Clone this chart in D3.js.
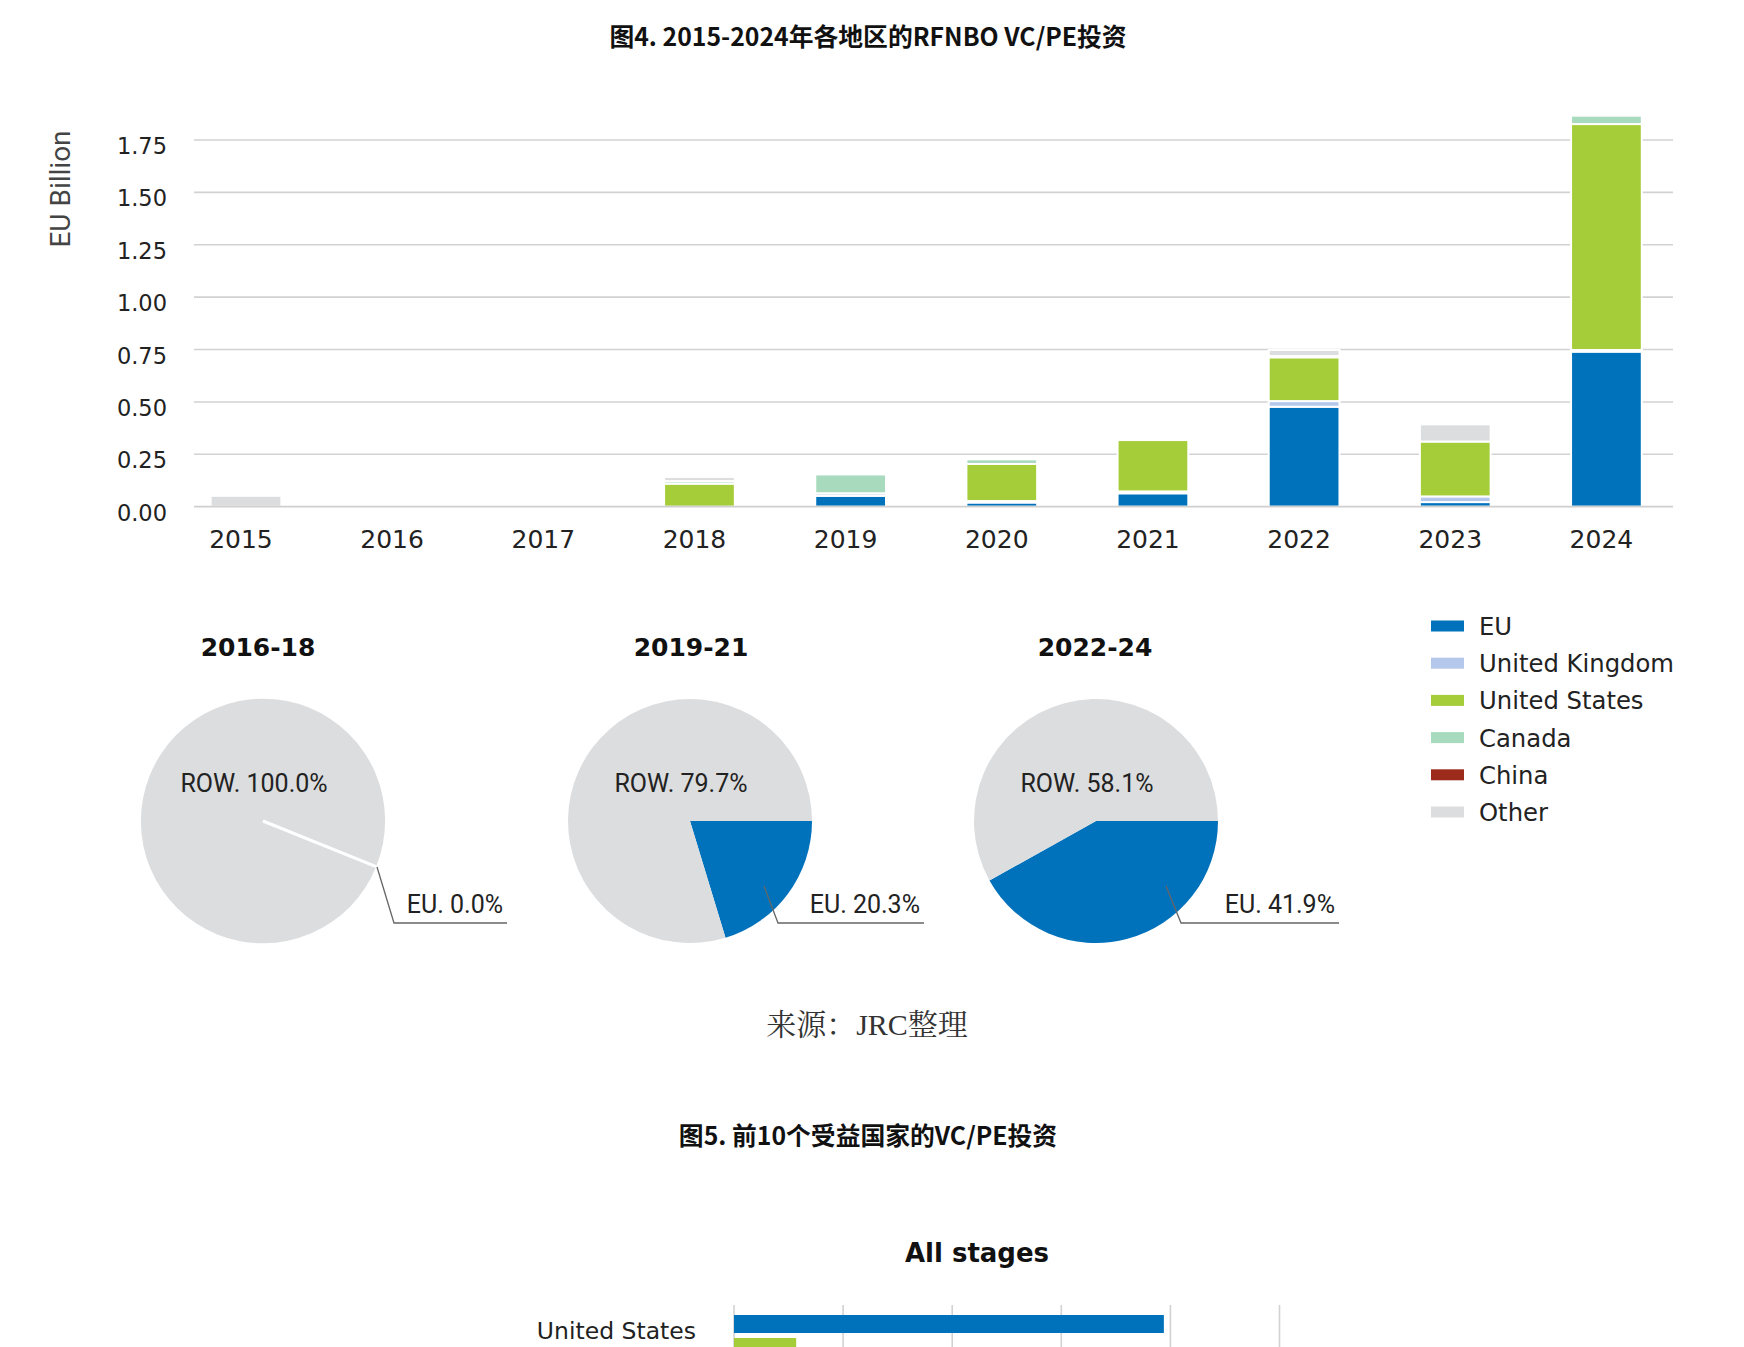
<!DOCTYPE html>
<html><head><meta charset="utf-8">
<script src="https://cdn.jsdelivr.net/npm/d3@7/dist/d3.min.js"></script>
<style>body{margin:0;background:#fff} svg{display:block}</style>
</head><body>
<svg id="c" width="1744" height="1347"></svg>
<script>
// ---------- data ----------
const years   = ['2015','2016','2017','2018','2019','2020','2021','2022','2023','2024'];
const euVals     = [0,     0, 0, 0,     0.052, 0.020, 0.064, 0.477, 0.022, 0.740];
const ukVals     = [0,     0, 0, 0,     0.012, 0.007, 0.009, 0.027, 0.027, 0.008];
const usVals     = [0,     0, 0, 0.110, 0,     0.177, 0.245, 0.209, 0.262, 1.078];
const canadaVals = [0,     0, 0, 0.012, 0.090, 0.022, 0,     0.006, 0,     0.040];
const chinaVals  = [0,     0, 0, 0,     0,     0,     0,     0,     0,     0];
const otherVals  = [0.052, 0, 0, 0.020, 0,     0,     0,     0.029, 0.082, 0];
const seriesNames = ['EU','United Kingdom','United States','Canada','China','Other'];
const yTicks = [0, 0.25, 0.5, 0.75, 1.0, 1.25, 1.5, 1.75];

const periods  = ['2016-18','2019-21','2022-24'];
const euShare  = [0.0, 20.3, 41.9];
const rowShare = [100.0, 79.7, 58.1];

const hbarCountries = ['United States'];
const hbarBlue  = [3.94];
const hbarGreen = [0.57];
const hbarTicks = [0, 1, 2, 3, 4, 5];

// ---------- style ----------
const colors = {'EU':'#0072BC','United Kingdom':'#B4C8EC','United States':'#A5CD39',
                'Canada':'#A8DBBE','China':'#9C2B1C','Other':'#DCDDDF'};
const ROW_COLOR = '#DCDDDF';
const TXT = '#222';
const sans = "'DejaVu Sans', sans-serif";
const narrow = "Roboto, 'Noto Sans', sans-serif";
const cjk = "'Noto Sans CJK SC', sans-serif";

const svg = d3.select('#c');
svg.append('rect').attr('width',1744).attr('height',1347).attr('fill','#fff');

// ---------- titles ----------
svg.append('text').attr('x',868).attr('y',46).attr('text-anchor','middle')
  .attr('font-family',cjk).attr('font-weight','bold').attr('font-size',24.8).attr('fill','#111')
  .text('图4. 2015-2024年各地区的RFNBO VC/PE投资');

// ---------- stacked bar chart ----------
const x = d3.scaleBand().domain(years).range([170.4, 1682]).paddingInner(0.532).paddingOuter(0.266);
const y = d3.scaleLinear().domain([0, 1.75]).range([506.7, 140]);

const gGrid = svg.append('g');
gGrid.selectAll('line').data(yTicks.filter(t=>t>0)).join('line')
  .attr('x1',194).attr('x2',1673).attr('y1',d=>y(d)).attr('y2',d=>y(d))
  .attr('stroke','#d2d2d2').attr('stroke-width',1.6);

const table = years.map((yr,i)=>({year:yr,'EU':euVals[i],'United Kingdom':ukVals[i],
  'United States':usVals[i],'Canada':canadaVals[i],'China':chinaVals[i],'Other':otherVals[i]}));
const stacked = d3.stack().keys(seriesNames)(table);

svg.append('g').selectAll('g').data(stacked).join('g')
  .attr('fill',d=>colors[d.key])
  .selectAll('rect').data(d=>d.filter(s=>s[1]-s[0]>0)).join('rect')
  .attr('x',d=>x(d.data.year)).attr('width',x.bandwidth())
  .attr('y',d=>y(d[1])).attr('height',d=>y(d[0])-y(d[1]))
  .attr('stroke','#fff').attr('stroke-width',2);

// baseline
svg.append('line').attr('x1',194).attr('x2',1673).attr('y1',y(0)).attr('y2',y(0))
  .attr('stroke','#cfcfcf').attr('stroke-width',1.8);

// y tick labels
svg.append('g').selectAll('text').data(yTicks).join('text')
  .attr('x',167).attr('y',d=>y(d)+14).attr('text-anchor','end')
  .attr('font-family',sans).attr('font-size',22.5).attr('fill',TXT)
  .text(d=>d3.format('.2f')(d));

// x tick labels
svg.append('g').selectAll('text').data(years).join('text')
  .attr('x',d=>x(d)+x.bandwidth()/2-5).attr('y',548).attr('text-anchor','middle')
  .attr('font-family',sans).attr('font-size',25).attr('fill',TXT)
  .text(d=>d);

// y axis title
svg.append('text').attr('transform','translate(70,189) rotate(-90)').attr('text-anchor','middle')
  .attr('font-family',narrow).attr('font-size',28).attr('fill','#444').text('EU Billion');

// ---------- pies ----------
const pieCenters = [[263,821],[690,821],[1096,821]];
const R = 122;
const startDeg = [112, 90, 90];
const leaders = [[114,46,131,102,244],[74,65,88,102,234],[70,65,85,102,243]];
const arc = d3.arc().innerRadius(0).outerRadius(R);

periods.forEach((p,i)=>{
  const [cx,cy] = pieCenters[i];
  const g = svg.append('g').attr('transform',`translate(${cx},${cy})`);
  const a0 = startDeg[i]*Math.PI/180;
  const pie = d3.pie().sort(null).value(d=>d.v).startAngle(a0).endAngle(a0+2*Math.PI);
  const arcs = pie([{k:'EU',v:euShare[i]},{k:'ROW',v:rowShare[i]}]);
  g.selectAll('path').data(arcs).join('path')
    .attr('d',arc).attr('fill',d=>d.data.k==='EU'?colors['EU']:ROW_COLOR);
  arcs.filter(d=>d.data.v===0).forEach(d=>{
    const [ex,ey] = d3.pointRadial(d.startAngle, R);
    g.append('line').attr('x1',0).attr('y1',0).attr('x2',ex).attr('y2',ey)
      .attr('stroke','#fff').attr('stroke-width',3);
  });
  // title
  svg.append('text').attr('x',cx+[-5,1,-1][i]).attr('y',cy-165).attr('text-anchor','middle')
    .attr('font-family',sans).attr('font-weight','bold').attr('font-size',25).attr('fill','#111')
    .text(p);
  // ROW label
  g.append('text').attr('x',-9).attr('y',-29).attr('text-anchor','middle')
    .attr('font-family',narrow).attr('font-size',25).attr('fill',TXT)
    .text('ROW. '+rowShare[i].toFixed(1)+'%');
  // leader + EU label
  const L = leaders[i];
  g.append('polyline').attr('points',`${L[0]},${L[1]} ${L[2]},${L[3]} ${L[4]},${L[3]}`)
    .attr('fill','none').attr('stroke','#666').attr('stroke-width',1.3);
  g.append('text').attr('x',L[4]-4).attr('y',L[3]-10).attr('text-anchor','end')
    .attr('font-family',narrow).attr('font-size',25).attr('fill',TXT)
    .text('EU. '+euShare[i].toFixed(1)+'%');
});

// ---------- legend ----------
const lg = svg.append('g');
seriesNames.forEach((s,i)=>{
  const cyL = 626 + i*37.2;
  lg.append('rect').attr('x',1431).attr('y',cyL-5.5).attr('width',33).attr('height',11).attr('fill',colors[s]);
  lg.append('text').attr('x',1479).attr('y',cyL+9).attr('font-family',sans).attr('font-size',24.3)
    .attr('fill',TXT).text(s);
});

// ---------- source ----------
svg.append('text').attr('x',867).attr('y',1035).attr('text-anchor','middle')
  .attr('font-family',"'Liberation Serif', 'Noto Serif CJK SC', serif").attr('font-size',30)
  .attr('fill','#333').text('来源：JRC整理');

// ---------- figure 5 ----------
svg.append('text').attr('x',868).attr('y',1145).attr('text-anchor','middle')
  .attr('font-family',cjk).attr('font-weight','bold').attr('font-size',24.8).attr('fill','#111')
  .text('图5. 前10个受益国家的VC/PE投资');
svg.append('text').attr('x',977).attr('y',1262).attr('text-anchor','middle')
  .attr('font-family',sans).attr('font-weight','bold').attr('font-size',26).attr('fill','#111')
  .text('All stages');

const hx = d3.scaleLinear().domain([0,5]).range([734, 1279.5]);
const hy = d3.scaleBand().domain(hbarCountries).range([1305, 1367]);
const hsub = d3.scaleBand().domain(['a','b']).range([10, 51]).paddingInner(0.217);
svg.append('g').selectAll('line').data(hbarTicks).join('line')
  .attr('x1',d=>hx(d)).attr('x2',d=>hx(d)).attr('y1',1305).attr('y2',1347)
  .attr('stroke','#d2d2d2').attr('stroke-width',1.6);
hbarCountries.forEach((c,i)=>{
  svg.append('rect').attr('x',hx(0)).attr('y',hy(c)+hsub('a'))
    .attr('width',hx(hbarBlue[i])-hx(0)).attr('height',hsub.bandwidth()).attr('fill',colors['EU']);
  svg.append('rect').attr('x',hx(0)).attr('y',hy(c)+hsub('b'))
    .attr('width',hx(hbarGreen[i])-hx(0)).attr('height',hsub.bandwidth()).attr('fill',colors['United States']);
  svg.append('text').attr('x',696).attr('y',hy(c)+34).attr('text-anchor','end')
    .attr('font-family',sans).attr('font-size',23.5).attr('fill',TXT).text(c);
});
</script>
</body></html>
